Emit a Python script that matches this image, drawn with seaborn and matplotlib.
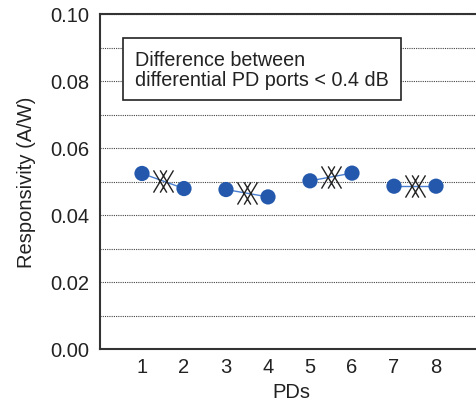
import numpy as np
import matplotlib
matplotlib.use('Agg')
import matplotlib.pyplot as plt
from matplotlib.path import Path
import seaborn as sns
import pandas as pd

pds = [1, 2, 3, 4, 5, 6, 7, 8]
resp = [0.0524, 0.0479, 0.0476, 0.0454, 0.0502, 0.0525, 0.0486, 0.0486]
pair = ['a', 'a', 'b', 'b', 'c', 'c', 'd', 'd']
note = 'Difference between\ndifferential PD ports < 0.4 dB'

df = pd.DataFrame({'PD': pds, 'resp': resp, 'pair': pair})

sns.set_style('white')
plt.rcParams['font.family'] = ['Liberation Sans', 'DejaVu Sans']

fig = plt.figure(figsize=(4.76, 4.06), dpi=100)
ax = fig.add_axes([100/476, 1 - 350/406, 382/476, 335/406])

# thin connector for each differential pair
for p, g in df.groupby('pair'):
    ax.plot(g['PD'], g['resp'], color='#4a7fcf', lw=1.0, zorder=2)

sns.scatterplot(data=df, x='PD', y='resp', color='#2358ac', s=120,
                edgecolor='none', zorder=3, ax=ax, legend=False)

# double-cross marker between pair members
dx = Path([(-0.9, 1), (0.3, -1), (-0.9, -1), (0.3, 1),
           (-0.3, 1), (0.9, -1), (-0.3, -1), (0.9, 1)],
          [Path.MOVETO, Path.LINETO, Path.MOVETO, Path.LINETO,
           Path.MOVETO, Path.LINETO, Path.MOVETO, Path.LINETO])
mid = df.groupby('pair')[['PD', 'resp']].mean()
ax.plot(mid['PD'], mid['resp'], ls='none', marker=dx, ms=16,
        mec='#222222', mfc='none', mew=1.0, zorder=4)

ax.set_xlim(0, 382/42)
ax.set_ylim(0, 0.10)
ax.set_xticks(pds)
ax.set_yticks(np.arange(0, 0.101, 0.02))
ax.set_yticks(np.arange(0.01, 0.1, 0.01), minor=True)
ax.yaxis.set_major_formatter(matplotlib.ticker.FormatStrFormatter('%.2f'))
ax.grid(axis='y', which='both', ls=(0, (1, 1)), color='#444444', lw=0.8)
ax.set_axisbelow(True)

ax.tick_params(axis='x', direction='in', length=5, width=1, color='#333333',
               labelsize=14.5, pad=6, labelcolor='#222222')
ax.tick_params(axis='y', which='both', length=0, labelsize=14.5, pad=8,
               labelcolor='#222222')
ax.set_xlabel('PDs', fontsize=14.5, color='#222222', labelpad=4)
ax.set_ylabel('Responsivity (A/W)', fontsize=14.5, color='#222222', labelpad=10)

for s in ['left', 'bottom', 'top']:
    ax.spines[s].set_color('#333333')
    ax.spines[s].set_linewidth(1.5)
ax.spines['right'].set_visible(False)

ax.text(35/42, 0.0835, note, fontsize=14.2, color='#222222', va='center',
        ha='left', linespacing=1.05,
        bbox=dict(boxstyle='square,pad=0.6', fc='white', ec='#222222', lw=1.2),
        zorder=5)

fig.savefig('out.png', dpi=100)
